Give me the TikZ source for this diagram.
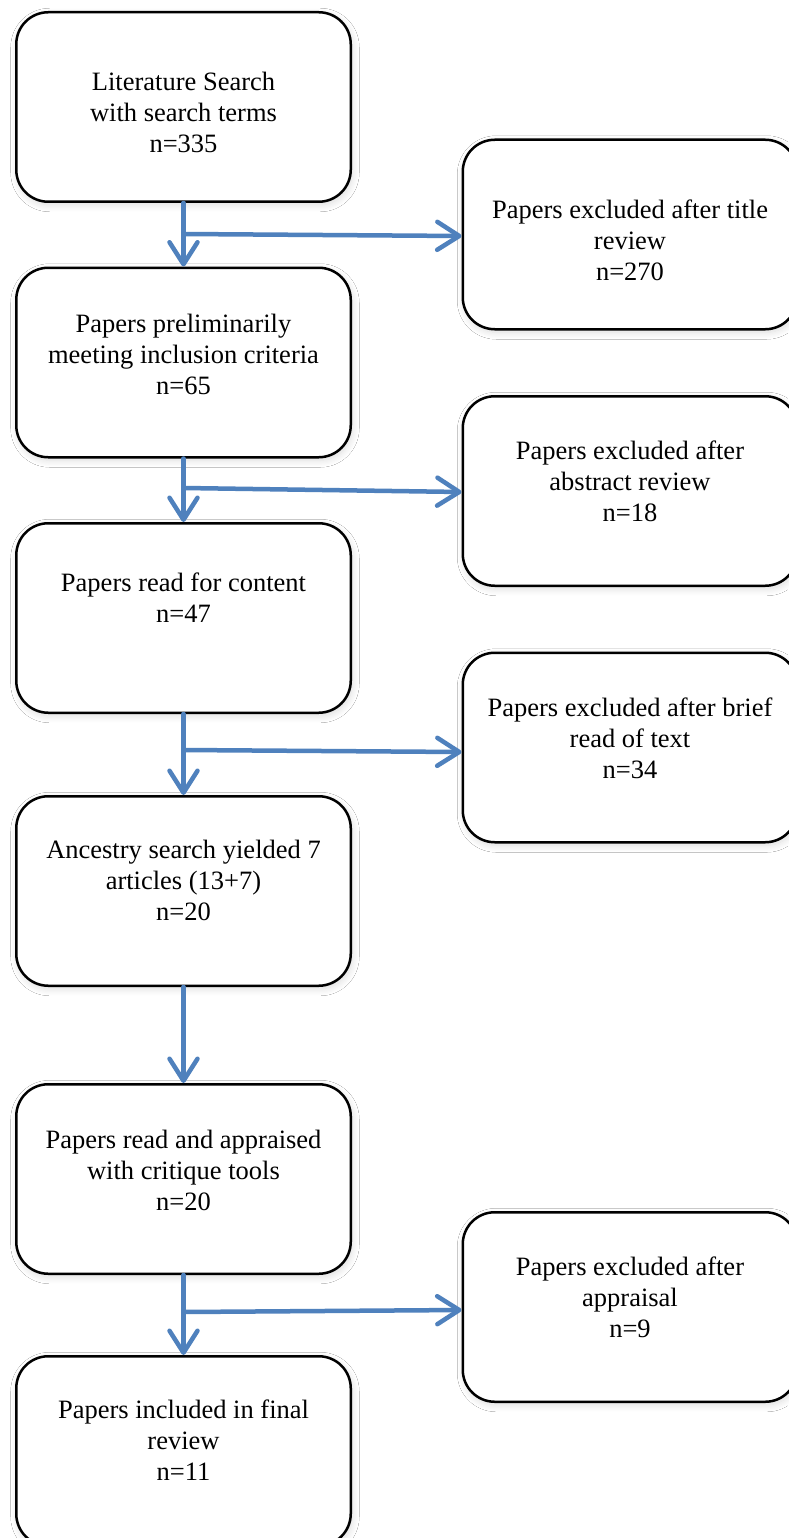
\documentclass[tikz,border=0pt]{standalone}
\usepackage{fontspec}
\setmainfont{Liberation Serif}
\usetikzlibrary{arrows.meta,shadows.blur}
\definecolor{arrowblue}{RGB}{79,129,189}
\tikzset{
  box/.style={draw=black, line width=2.5pt, rounded corners=32pt, fill=white,
    minimum width=334.5pt, minimum height=189.5pt, inner sep=0pt,
    blur shadow={shadow xshift=1.5pt, shadow yshift=-3pt, shadow blur radius=7pt, shadow blur steps=12, shadow opacity=14}},
  txt/.style={align=center, inner sep=0pt, anchor=base,
    font=\fontsize{26.5}{31}\selectfont},
  arr/.style={draw=arrowblue, line width=4.5pt, line cap=round,
    -{Straight Barb[length=22pt,width=28pt,round]}}
}
\begin{document}
\begin{tikzpicture}[x=1pt,y=-1pt]
\useasboundingbox[fill=white] (0,0) rectangle (788,1538);
% left column boxes
\node[box] (L1) at (183.5,107) {};
\node[box] (L2) at (183.5,362.5) {};
\node[box] (L3) at (183.5,618) {};
\node[box] (L4) at (183.5,891) {};
\node[box] (L5) at (183.5,1179) {};
\node[box] (L6) at (183.5,1451) {};
% right column boxes
\node[box] (R1) at (630,234.5) {};
\node[box] (R2) at (630,491) {};
\node[box] (R3) at (630,747.5) {};
\node[box] (R4) at (630,1307) {};
% texts (anchored at the baseline of the last line)
\node[txt] (L1t) at (183.5,153) {Literature Search\\with search terms\\n=335};
\node[txt] (L2t) at (183.5,394) {Papers preliminarily\\meeting inclusion criteria\\n=65};
\node[txt] (L3t) at (183.5,622) {Papers read for content\\n=47};
\node[txt] (L4t) at (183.5,920) {Ancestry search yielded 7\\articles (13+7)\\n=20};
\node[txt] (L5t) at (183.5,1210) {Papers read and appraised\\with critique tools\\n=20};
\node[txt] (L6t) at (183.5,1480) {Papers included in final\\review\\n=11};
\node[txt] (R1t) at (630,280) {Papers excluded after title\\review\\n=270};
\node[txt] (R2t) at (630,521) {Papers excluded after\\abstract review\\n=18};
\node[txt] (R3t) at (630,778) {Papers excluded after brief\\read of text\\n=34};
\node[txt] (R4t) at (630,1337) {Papers excluded after\\appraisal\\n=9};
% branch points
\coordinate (h1) at (183.5,234);
\coordinate (h2) at (183.5,488);
\coordinate (h3) at (183.5,750);
\coordinate (h4) at (183.5,1312);
% connectors
\draw[arr] (L1.south) -- (L2.north);
\draw[arr] (L2.south) -- (L3.north);
\draw[arr] (L3.south) -- (L4.north);
\draw[arr] (L4.south) -- (L5.north);
\draw[arr] (L5.south) -- (L6.north);
\draw[arr] (h1) -- ([yshift=-1.5pt]R1.west);
\draw[arr] (h2) -- ([yshift=-1pt]R2.west);
\draw[arr] (h3) -- ([yshift=-4.5pt]R3.west);
\draw[arr] (h4) -- ([yshift=-3pt]R4.west);
\end{tikzpicture}
\end{document}
